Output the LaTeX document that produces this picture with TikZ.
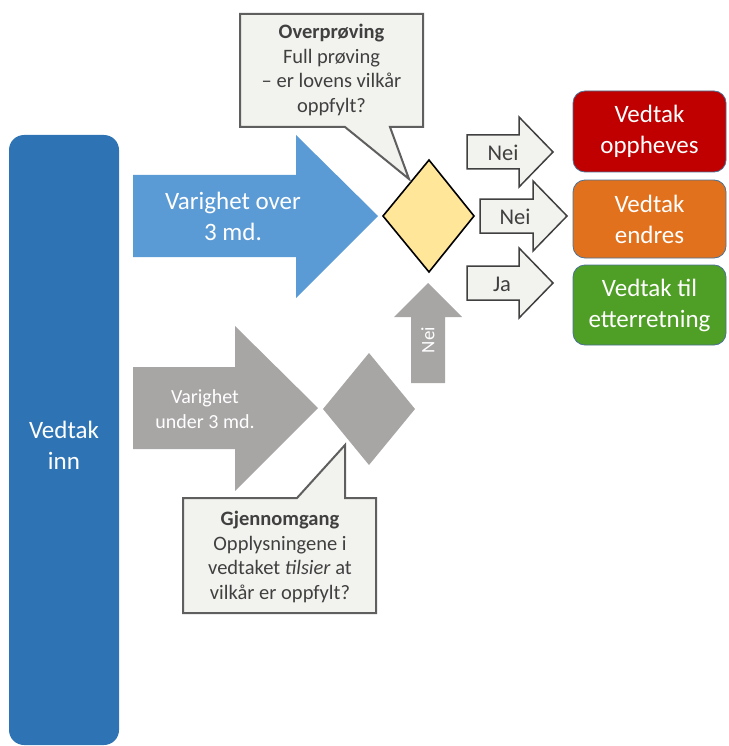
\documentclass[tikz,border=0pt]{standalone}
\usepackage{fontspec}
\setmainfont{Carlito}
\definecolor{innblue}{HTML}{2E74B5}
\definecolor{arrblue}{HTML}{5B9BD5}
\definecolor{grayshape}{HTML}{A8A5A5}
\definecolor{diayellow}{HTML}{FFE699}
\definecolor{callfill}{HTML}{F2F2EE}
\definecolor{callline}{HTML}{5F5F5F}
\definecolor{darktext}{HTML}{404040}
\definecolor{resred}{HTML}{C00000}
\definecolor{resorange}{HTML}{E2711D}
\definecolor{resgreen}{HTML}{4F9E26}
\definecolor{resline}{HTML}{4A7196}
\begin{document}
\begin{tikzpicture}[x=1pt,y=-1pt,
  bigtxt/.style={text=white, align=center, inner sep=0pt, font=\fontsize{25}{31}\selectfont},
  midtxt/.style={text=white, align=center, inner sep=0pt, font=\fontsize{20}{24.5}\selectfont},
  uptxt/.style={text=white, inner sep=0pt, font=\fontsize{19}{23}\selectfont},
  arrtxt/.style={text=darktext, inner sep=0pt, font=\fontsize{22.5}{27}\selectfont},
  calltxt/.style={text=darktext, align=center, inner sep=0pt, font=\fontsize{20.5}{24.8}\selectfont},
  callout/.style={fill=callfill, draw=callline, line width=2pt, line join=miter},
  smallarr/.style={fill=callfill, draw=darktext, line width=1.5pt, line join=miter},
  resbox/.style={draw=resline, line width=0.8pt, rounded corners=12pt, minimum width=153pt,
    text=white, align=center, inner sep=0pt, font=\fontsize{25}{31}\selectfont}
]
\useasboundingbox (0,0) rectangle (728,746);
\clip (0,0) rectangle (728,746);

% incoming decisions
\node[fill=innblue, rounded corners=15pt, minimum width=110pt, minimum height=610pt, inner sep=0pt] (inn) at (64,440) {};
\node[bigtxt] (inntxt) at (inn.center) [yshift=-5pt] {Vedtak\\inn};

% blue arrow (over 3 months)
\fill[arrblue] (133,175) -- (296,175) -- (296,135) -- (378,216) -- (296,298) -- (296,257) -- (133,257) -- cycle;
\node[bigtxt] (overtxt) at (233,216) {Varighet over\\3 md.};

% gray arrow (under 3 months)
\fill[grayshape] (133,367) -- (235,367) -- (235,326) -- (318,408) -- (235,491) -- (235,449) -- (133,449) -- cycle;
\node[midtxt] (undertxt) at (205,409) {Varighet\\under 3 md.};

% gray diamond
\fill[grayshape] (369,353) -- (415,409) -- (369,465) -- (323,409) -- cycle;
\coordinate (graydia) at (369,409);

% yellow diamond
\draw[fill=diayellow, line width=1.6pt, line join=miter] (429,160) -- (474,216) -- (429,272) -- (383,216) -- cycle;
\coordinate (yellowdia) at (429,216);

% gray up arrow
\fill[grayshape] (411,383) -- (411,317) -- (394,317) -- (428,283) -- (462,317) -- (445,317) -- (445,383) -- cycle;
\node[uptxt, rotate=90] (neiup) at (428,340) {Nei};

% small outcome arrows
\draw[smallarr] (467,135) -- (519,135) -- (519,117) -- (553,152) -- (519,187) -- (519,169) -- (467,169) -- cycle;
\node[arrtxt] (nei1) at (503,153) {Nei};
\draw[smallarr] (480,199) -- (533,199) -- (533,181) -- (567,216) -- (533,251) -- (533,233) -- (480,233) -- cycle;
\node[arrtxt] (nei2) at (515,217) {Nei};
\draw[smallarr] (467,266) -- (519,266) -- (519,248) -- (553,283) -- (519,318) -- (519,300) -- (467,300) -- cycle;
\node[arrtxt] (ja) at (502,284) {Ja};

% result boxes
\node[resbox, fill=resred, minimum height=81pt] (oppheves) at (649.5,131.5) {Vedtak\\oppheves};
\node[resbox, fill=resorange, minimum height=78pt] (endres) at (649.5,219) {Vedtak\\endres};
\node[resbox, fill=resgreen, minimum height=80pt] (etter) at (649.5,305) {Vedtak til\\etterretning};

% callout top
\draw[callout] (240,14) -- (423,14) -- (423,127) -- (390,127) -- (409,179) -- (345,127) -- (240,127) -- cycle;
\node[calltxt] (overproving) at (331.5,70) {\textbf{Overprøving}\\Full prøving\\– er lovens vilkår\\oppfylt?};

% callout bottom
\draw[callout] (183,498) -- (297,498) -- (345,445) -- (345,498) -- (376,498) -- (376,613) -- (183,613) -- cycle;
\node[calltxt] (gjennomgang) at (280,557) {\textbf{Gjennomgang}\\Opplysningene i\\vedtaket \textit{tilsier} at\\vilkår er oppfylt?};
\end{tikzpicture}
\end{document}
